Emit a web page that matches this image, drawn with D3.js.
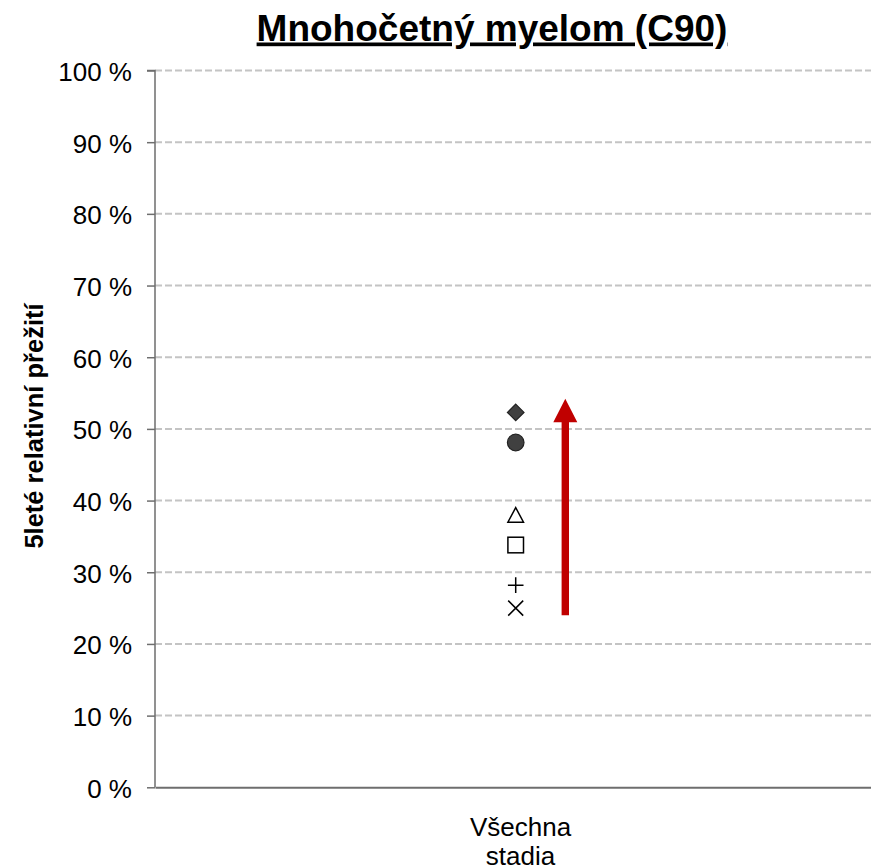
<!DOCTYPE html>
<html><head><meta charset="utf-8">
<script src="https://cdn.jsdelivr.net/npm/d3@7"></script>
<style>body{margin:0;background:#fff}svg{display:block}</style>
</head><body>
<svg id="c" width="871" height="868"></svg>
<script>
const title = "Mnohočetný myelom (C90)";
const yLabel = "5leté relativní přežití";
const categories = ["Všechna stadia"];
const seriesNames = ["období 6", "období 5", "období 4", "období 3", "období 2", "období 1"];
const seriesSymbols = ["diamond", "circle", "triangle", "square", "plus", "cross"];
const seriesValues = [52.3, 48.1, 38.0, 33.8, 28.2, 25.0];
const arrowFrom = 24.0, arrowTo = 54.2;
const yTicks = [0,10,20,30,40,50,60,70,80,90,100];

const svg = d3.select("#c");
const m = {left:155, top:70.5, bottom:787.3, right:885};
const y = d3.scaleLinear().domain([0,100]).range([m.bottom, m.top]);
const x = d3.scalePoint().domain(categories).range([m.left, m.right]).padding(0.5);

// gridlines
svg.append("g").selectAll("line").data(yTicks.filter(d=>d>0)).join("line")
  .attr("x1", m.left).attr("x2", m.right)
  .attr("y1", d=>y(d)).attr("y2", d=>y(d))
  .attr("stroke", "#c4c4c4").attr("stroke-width", 2).attr("stroke-dasharray", "7,3");

// y axis
const ya = svg.append("g").attr("transform", `translate(${m.left},0)`)
  .call(d3.axisLeft(y).tickValues(yTicks).tickSize(8).tickPadding(15).tickFormat(d=>d+" %"));
ya.select(".domain").attr("stroke", "#6e6e6e").attr("stroke-width", 1.5).attr("d", `M-8,${m.top}H0V${m.bottom}`);
ya.selectAll(".tick line").attr("stroke", "#6e6e6e").attr("stroke-width", 1.5);
ya.selectAll(".tick text").attr("font-family", "Liberation Sans, Arial, sans-serif").attr("font-size", 26).attr("fill", "#000").attr("dy", "0.38em");

// x axis
const xa = svg.append("g").attr("transform", `translate(0,${m.bottom})`)
  .call(d3.axisBottom(x).tickSize(0).tickFormat(""));
xa.select(".domain").attr("stroke", "#6e6e6e").attr("stroke-width", 2);
xa.selectAll(".tick").each(function(d){
  const t = d3.select(this).append("text").attr("text-anchor","middle")
    .attr("font-family","Liberation Sans, Arial, sans-serif").attr("font-size",26).attr("fill","#000");
  const parts = d.split(" ");
  t.append("tspan").attr("x",0).attr("y",48.5).text(parts[0]);
  t.append("tspan").attr("x",0).attr("y",78).text(parts[1]);
});

// markers
const cx = x(categories[0]) - 4.3;
const g = svg.append("g");
seriesValues.forEach((v,i)=>{
  const s = seriesSymbols[i], cy = y(v);
  const p = g.append("g").attr("transform", `translate(${cx},${cy})`);
  if (s==="diamond") p.append("path").attr("d","M0,-8.3L8.3,0L0,8.3L-8.3,0Z").attr("fill","#404040").attr("stroke","#222").attr("stroke-width",1.2);
  if (s==="circle") p.append("circle").attr("r",8.3).attr("fill","#404040").attr("stroke","#222").attr("stroke-width",1.2);
  if (s==="triangle") p.append("path").attr("d","M0,-7.3L7.8,7.3L-7.8,7.3Z").attr("fill","#fff").attr("stroke","#000").attr("stroke-width",1.5);
  if (s==="square") p.append("rect").attr("x",-7.8).attr("y",-7.8).attr("width",15.6).attr("height",15.6).attr("fill","#fff").attr("stroke","#000").attr("stroke-width",1.5);
  if (s==="plus") p.append("path").attr("d","M-7.8,0H7.8M0,-7.8V7.8").attr("stroke","#000").attr("stroke-width",1.5);
  if (s==="cross") p.append("path").attr("d","M-7.5,-7.5L7.5,7.5M-7.5,7.5L7.5,-7.5").attr("stroke","#000").attr("stroke-width",1.5);
});

// arrow
const ax = x(categories[0]) + 45.3;
const tipY = y(arrowTo), baseY = y(arrowFrom);
svg.append("path")
  .attr("d", `M${ax-3.7},${baseY}V${tipY+23.4}H${ax-12}L${ax},${tipY}L${ax+12},${tipY+23.4}H${ax+3.7}V${baseY}Z`)
  .attr("fill", "#c00000");

// title
svg.append("text").attr("x", 492).attr("y", 40.5).attr("text-anchor","middle")
  .attr("font-family","Liberation Sans, Arial, sans-serif").attr("font-weight","bold").attr("font-size",37)
  .attr("text-decoration","underline").attr("fill","#000").text(title);

// y label
svg.append("text").attr("transform", "translate(43,426) rotate(-90)").attr("text-anchor","middle")
  .attr("font-family","Liberation Sans, Arial, sans-serif").attr("font-weight","bold").attr("font-size",25.5)
  .attr("fill","#000").text(yLabel);
</script>
</body></html>
